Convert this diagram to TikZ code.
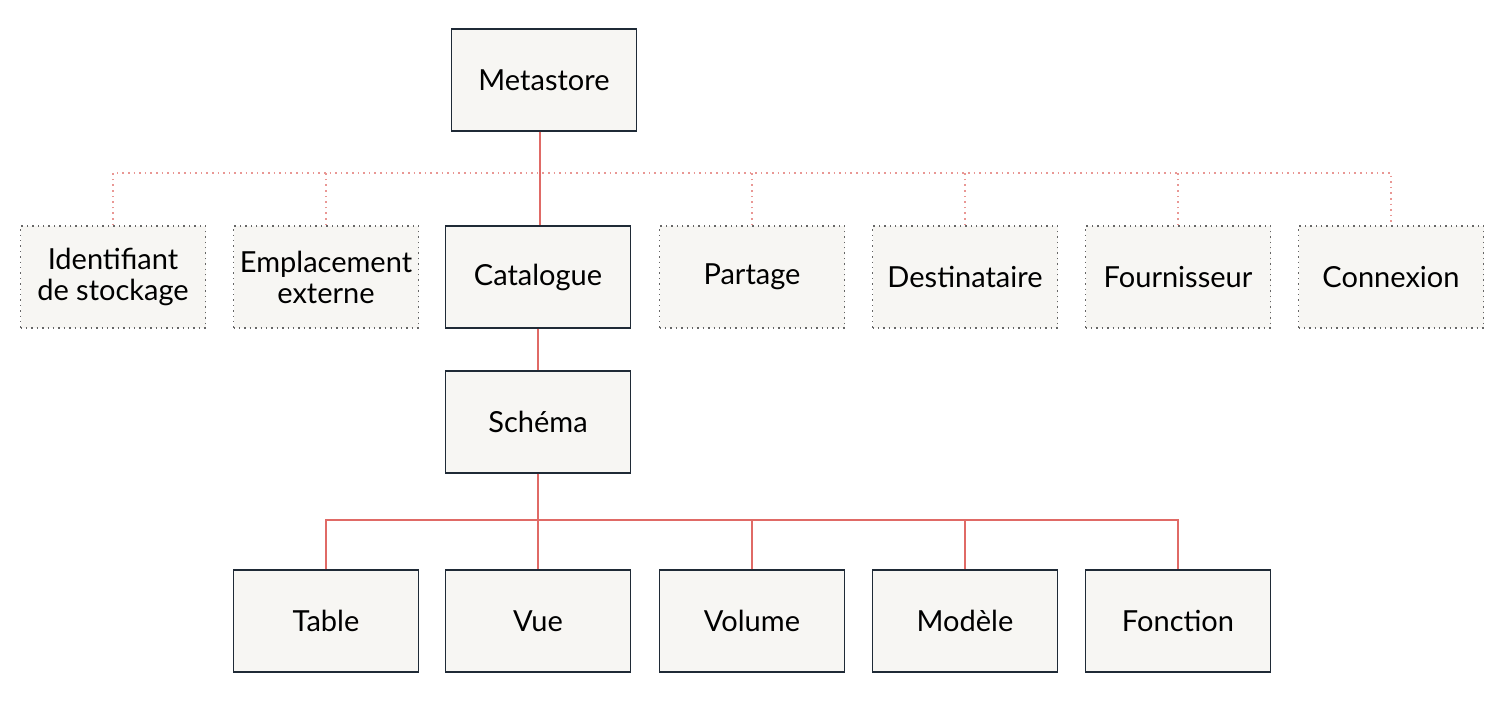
\documentclass[tikz,border=0pt]{standalone}
\usepackage{fontspec}
\setmainfont{Lato}
\definecolor{bfill}{HTML}{F7F6F3}
\definecolor{bdraw}{HTML}{1F2A36}
\definecolor{lred}{HTML}{E06A66}
\begin{document}
\begin{tikzpicture}[x=0.5pt,y=-0.5pt,
  box/.style={draw=bdraw,fill=bfill,line width=0.7pt,minimum width=92.5pt,minimum height=51pt,inner sep=1pt,align=center,font=\fontsize{14.5}{15.5}\selectfont},
  dbox/.style={box,draw=black!60,dotted,line width=0.8pt},
  link/.style={draw=lred,line width=0.8pt},
  dlink/.style={link,dotted,draw=lred!70}]
\useasboundingbox (0,0) rectangle (1504,704);
\node[box] (meta) at (544,80) {Metastore};
\node[dbox] (id) at (113,277) {Identifiant\\de stockage};
\node[dbox] (emp) at (326,277) {Emplacement\\externe};
\node[box] (cat) at (538,277) {Catalogue};
\node[dbox] (par) at (752,277) {Partage};
\node[dbox] (des) at (965,277) {Destinataire};
\node[dbox] (fou) at (1178,277) {Fournisseur};
\node[dbox] (con) at (1391,277) {Connexion};
\node[box] (sch) at (538,422) {Schéma};
\node[box] (tab) at (326,621) {Table};
\node[box] (vue) at (538,621) {Vue};
\node[box] (vol) at (752,621) {Volume};
\node[box] (mod) at (965,621) {Modèle};
\node[box] (fon) at (1178,621) {Fonction};
\coordinate (bt) at (540,173);
\coordinate (bb) at (538,520);
\draw[link] (meta.south -| bt) -- (cat.north -| bt);
\draw[dlink] (id.north) -- (id.north |- bt) -- (con.north |- bt) -- (con.north);
\foreach \n in {emp,par,des,fou} \draw[dlink] (\n.north) -- (\n.north |- bt);
\draw[link] (cat) -- (sch);
\draw[link] (sch) -- (vue);
\draw[link] (tab.north) -- (tab.north |- bb) -- (fon.north |- bb) -- (fon.north);
\foreach \n in {vol,mod} \draw[link] (\n.north) -- (\n.north |- bb);
\end{tikzpicture}
\end{document}
